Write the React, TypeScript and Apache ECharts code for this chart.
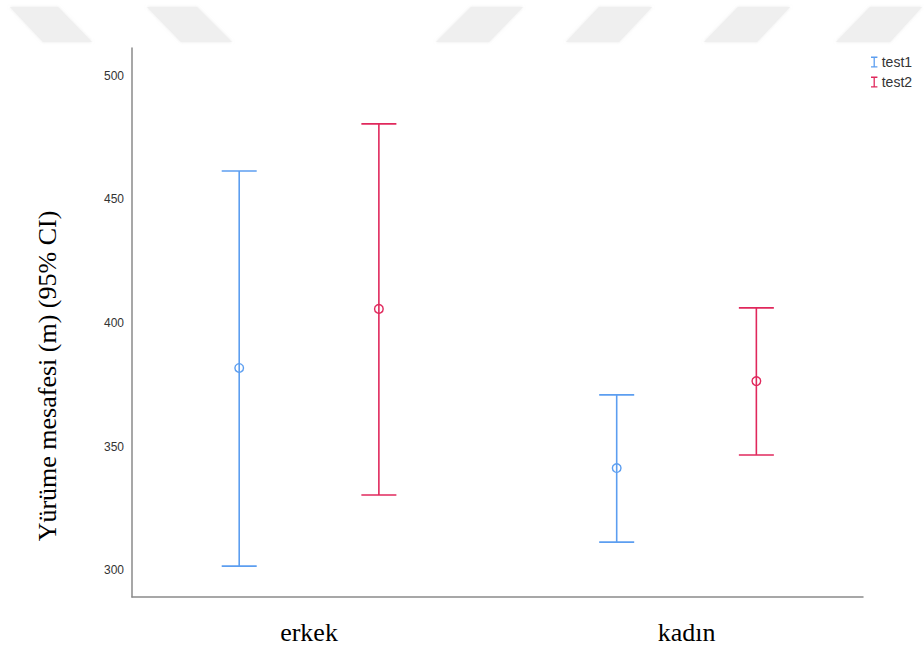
import React, { useEffect, useRef } from "react";
import * as echarts from "echarts";

const categories = ["erkek", "kadın"];
const seriesNames = ["test1", "test2"];
const test1Mean = [381.8, 341.3];
const test1Lower = [301.6, 311.3];
const test1Upper = [461.5, 370.9];
const test2Mean = [405.7, 376.5];
const test2Lower = [330.4, 346.6];
const test2Upper = [480.6, 406.1];
const yTicks = [300, 350, 400, 450, 500];
const yTitle = "Yürüme mesafesi (m) (95% CI)";

const COLORS = ["#5c9ef0", "#e0285c"];
const OFFSET = 0.185;
const SERIF = "'Liberation Serif', 'Times New Roman', serif";
const SANS = "'Liberation Sans', Arial, sans-serif";

const watermarks: number[][][] = [
  [[10, 7], [58, 7], [92, 42], [43, 42]],
  [[147, 7], [197, 7], [232, 42], [181, 42]],
  [[471, 7], [523, 7], [489, 42], [436, 42]],
  [[599, 7], [652, 7], [619, 42], [566, 42]],
  [[738, 7], [790, 7], [757, 42], [704, 42]],
  [[870, 7], [922, 7], [890, 42], [836, 42]],
];

function buildData(mean: number[], lower: number[], upper: number[], off: number) {
  return categories.map((_, i) => [i + 1 + off, mean[i], lower[i], upper[i]]);
}

function makeSeries(name: string, data: number[][], color: string) {
  return {
    type: "custom",
    name,
    itemStyle: { color },
    data,
    encode: { x: 0, y: [1, 2, 3] },
    renderItem: (params: any, api: any) => {
      const x = api.value(0);
      const mean = api.value(1);
      const lo = api.value(2);
      const hi = api.value(3);
      const pt = api.coord([x, hi]);
      const pb = api.coord([x, lo]);
      const pm = api.coord([x, mean]);
      const half = 17.5;
      const st = { stroke: color, lineWidth: 1.6, fill: "none" };
      return {
        type: "group",
        children: [
          { type: "line", shape: { x1: pt[0], y1: pt[1], x2: pb[0], y2: pb[1] }, style: st },
          { type: "line", shape: { x1: pt[0] - half, y1: pt[1], x2: pt[0] + half, y2: pt[1] }, style: st },
          { type: "line", shape: { x1: pb[0] - half, y1: pb[1], x2: pb[0] + half, y2: pb[1] }, style: st },
          { type: "circle", shape: { cx: pm[0], cy: pm[1], r: 4.3 }, style: { stroke: color, lineWidth: 1.4, fill: "none" } },
        ],
      };
    },
  };
}

export default function App() {
  const ref = useRef<HTMLDivElement>(null);
  useEffect(() => {
    if (!ref.current) return;
    const chart = echarts.init(ref.current, null, { renderer: "svg" });
    const legendIcon = "path://M0,0H7V1.5H4.2V10.5H7V12H0V10.5H2.8V1.5H0Z";
    chart.setOption({
      animation: false,
      backgroundColor: "#ffffff",
      grid: { left: 132, right: 61, top: 48, bottom: 50 },
      legend: {
        data: seriesNames.map((n) => ({ name: n, icon: legendIcon })),
        orient: "vertical",
        left: 866,
        top: 50,
        itemWidth: 7,
        itemHeight: 11,
        itemGap: 6,
        selectedMode: false,
        textStyle: { fontSize: 14, color: "#333", fontFamily: SANS, padding: [0, 0, 0, -1] },
      },
      xAxis: {
        type: "value",
        min: 0.531,
        max: 2.4675,
        splitLine: { show: false },
        axisTick: { show: false },
        axisLine: { show: true, onZero: false, lineStyle: { color: "#8a8a8a", width: 1.5 } },
        axisLabel: {
          customValues: [1, 2],
          formatter: (v: number) => categories[Math.round(v) - 1] ?? "",
          margin: 22,
          fontSize: 26,
          color: "#000",
          fontFamily: SERIF,
        },
      },
      yAxis: {
        type: "value",
        min: 289.1,
        max: 511.3,
        splitLine: { show: false },
        axisTick: { show: false },
        axisLine: { show: true, lineStyle: { color: "#8a8a8a", width: 1.5 } },
        axisLabel: {
          customValues: yTicks,
          margin: 8,
          fontSize: 12,
          color: "#333",
          fontFamily: SANS,
        },
      },
      graphic: [
        ...watermarks.map((pts) => ({
          type: "polygon",
          silent: true,
          z: -10,
          shape: { points: pts },
          style: { fill: "#efefef", shadowBlur: 3, shadowColor: "rgba(210,210,210,0.5)" },
        })),
        {
          type: "text",
          x: 47,
          y: 376,
          rotation: Math.PI / 2,
          style: {
            text: yTitle,
            fontSize: 26,
            fontFamily: SERIF,
            fill: "#000",
            align: "center",
            verticalAlign: "middle",
          },
        },
      ],
      series: [
        makeSeries(seriesNames[0], buildData(test1Mean, test1Lower, test1Upper, -OFFSET), COLORS[0]),
        makeSeries(seriesNames[1], buildData(test2Mean, test2Lower, test2Upper, OFFSET), COLORS[1]),
      ],
    });
    return () => chart.dispose();
  }, []);
  return <div ref={ref} style={{ width: 924, height: 647, position: "absolute", left: 0, top: 0 }} />;
}
